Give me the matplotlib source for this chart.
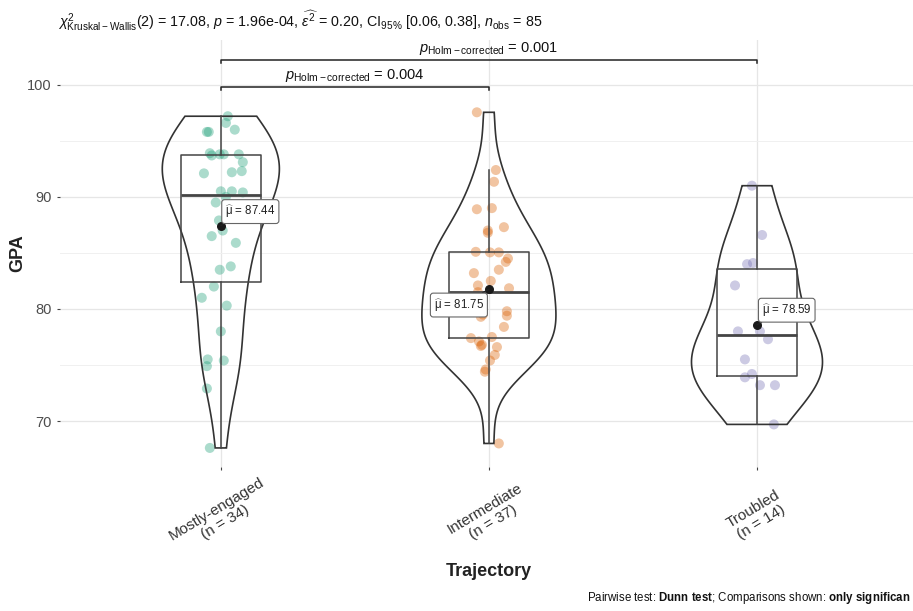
import numpy as np
import matplotlib
matplotlib.use("Agg")
import matplotlib.pyplot as plt
from matplotlib.transforms import blended_transform_factory

plt.rcParams["font.family"] = ["Liberation Sans", "DejaVu Sans"]
plt.rcParams["mathtext.fontset"] = "custom"
plt.rcParams["mathtext.rm"] = "Liberation Sans"
plt.rcParams["mathtext.it"] = "Liberation Sans:italic"
plt.rcParams["mathtext.bf"] = "Liberation Sans:bold"

# ---- data ----
groups = ["Mostly-engaged", "Intermediate", "Troubled"]
colors = ["#1B9E77", "#D95F02", "#7570B3"]

gpa_engaged = [97.2, 96.6, 95.8, 95.8, 96.0, 93.9, 93.7, 93.8, 93.8, 93.8, 93.1, 92.3,
               92.2, 92.1, 90.5, 90.4, 90.0, 89.5, 90.5, 87.9, 87.0, 86.5, 85.9, 83.5,
               83.8, 82.0, 81.0, 80.3, 78.0, 75.5, 74.9, 75.4, 72.9, 67.6]
jit_engaged = [.026, .019, -.052, -.045, .052, -.041, -.034, -.004, .011, .067, .082, .078,
               .041, -.063, .041, .082, .019, -.019, .000, -.007, .007, -.034, .056, -.004,
               .037, -.026, -.071, .022, .000, -.049, -.052, .011, -.052, -.041]

gpa_intermediate = [97.55, 92.4, 91.35, 88.9, 89.0, 87.3, 87.0, 86.8, 85.1, 85.05, 85.05,
                    84.5, 84.2, 83.2, 83.5, 82.5, 82.1, 81.5, 81.85, 79.5, 79.8, 79.4, 78.4,
                    77.4, 77.1, 76.8, 76.6, 75.9, 75.4, 74.4, 68.0, 81.0, 80.5, 79.3, 77.5,
                    76.7, 74.6]
jit_intermediate = [-.045, .026, .019, -.045, .011, .056, -.004, -.004, -.049, .004, .037,
                    .071, .063, -.056, .037, .007, -.041, -.041, .075, -.022, .067, .067, .056,
                    -.067, -.037, -.026, .030, .022, .004, -.015, .037, -.075, -.056, -.030, .011,
                    -.030, -.012]

gpa_troubled = [91.0, 86.6, 84.0, 84.1, 82.1, 78.0, 78.0, 77.3, 75.5, 73.9, 74.2, 73.2, 73.2, 69.7]
jit_troubled = [-.019, .019, -.037, -.015, -.082, -.071, .011, .041, -.045, -.045, -.019, .011,
                .067, .063]

mean_values = [87.44, 81.75, 78.59]

title_stats = (r"$\chi^2_{\mathrm{Kruskal-Wallis}}$(2) = 17.08, $\mathit{p}$ = 1.96e-04, "
               r"$\widehat{\varepsilon^2}$ = 0.20, CI$_{95\%}$ [0.06, 0.38], "
               r"$\mathit{n}_{\mathrm{obs}}$ = 85")
pairs = [(1, 2), (1, 3)]
pair_p = ["0.004", "0.001"]

data = [gpa_engaged, gpa_intermediate, gpa_troubled]
jitters = [jit_engaged, jit_intermediate, jit_troubled]


def kde(values):
    v = np.asarray(values)
    q1, q3 = np.percentile(v, [25, 75])
    bw = 0.9 * min(v.std(ddof=1), (q3 - q1) / 1.34) * len(v) ** (-0.2)
    grid = np.linspace(v.min(), v.max(), 512)
    dens = np.exp(-0.5 * ((grid[:, None] - v[None, :]) / bw) ** 2).sum(axis=1)
    dens /= len(v) * bw * np.sqrt(2 * np.pi)
    return grid, dens


fig = plt.figure(figsize=(9.13, 6.11), dpi=100)
ax = fig.add_axes([0.0657, 0.2357, 0.9396, 0.6988])

dens_list = [kde(d) for d in data]
dmax = max(d.max() for _, d in dens_list)

for i, (vals, jit, col) in enumerate(zip(data, jitters, colors)):
    pos = i + 1
    ax.scatter(pos + np.array(jit), vals, s=52, color=col, alpha=0.37,
               edgecolors="none", zorder=2)
    grid, dens = dens_list[i]
    half = 0.25 * dens / dmax
    xs = np.concatenate([pos - half, (pos + half)[::-1]])
    ys = np.concatenate([grid, grid[::-1]])
    ax.fill(xs, ys, facecolor="none", edgecolor="#333333", lw=1.2, zorder=3)

ax.boxplot(data, positions=[1, 2, 3], widths=0.3, whis=1.5, showfliers=False,
           showcaps=False, patch_artist=False, zorder=3,
           boxprops=dict(color="#444444", lw=1.1),
           whiskerprops=dict(color="#444444", lw=1.1),
           medianprops=dict(color="#444444", lw=2.0))

label_offsets = [(0.11, 1.25), (-0.112, -1.4), (0.111, 1.3)]
for i, m in enumerate(mean_values):
    ax.scatter([i + 1], [m], s=30, color="#1a1a1a", zorder=5)
    dx, dy = label_offsets[i]
    ax.annotate(r"$\widehat{\mathrm{\mu}}$ = %.2f" % m, xy=(i + 1, m),
                xytext=(i + 1 + dx, m + dy), ha="center", va="center", fontsize=8.3,
                color="#222222", zorder=6,
                bbox=dict(boxstyle="round,pad=0.3,rounding_size=0.25", fc="white",
                          ec="#666666", lw=0.8),
                arrowprops=dict(arrowstyle="-", color="#222222", lw=0.9,
                                shrinkA=0, shrinkB=0))

# significance brackets
bracket_y = [99.8, 102.2]
for (a, b), p, yb in zip(pairs, pair_p, bracket_y):
    ax.plot([a, a, b, b], [yb - 0.25, yb, yb, yb - 0.25], color="#222222", lw=1.1,
            zorder=4, clip_on=False)
    ax.text((a + b) / 2, yb + 0.3, r"$\mathit{p}_{\mathrm{Holm-corrected}}$ = " + p,
            ha="center", va="bottom", fontsize=10.5, color="#111111")

ax.set_xlim(0.4, 3.6)
ax.set_ylim(65.9, 104.0)
ax.set_yticks([70, 80, 90, 100])
ax.set_yticks([75, 85, 95], minor=True)
ax.set_xticks([1, 2, 3])
ax.set_xticklabels([])
ax.tick_params(axis="both", length=2.5, width=0.8, color="#444444", labelsize=10.5,
               labelcolor="#4d4d4d")
ax.tick_params(axis="y", which="minor", length=0)
ax.grid(True, which="major", color="#e6e6e6", lw=0.9)
ax.grid(True, which="minor", color="#f0f0f0", lw=0.7)
ax.set_axisbelow(True)
for sp in ax.spines.values():
    sp.set_visible(False)

trans = blended_transform_factory(ax.transData, ax.transAxes)
for i, g in enumerate(groups):
    ax.text(i + 1, -0.114, "%s\n(n = %d)" % (g, len(data[i])), transform=trans,
            rotation=31, ha="center", va="center", fontsize=11, color="#333333",
            multialignment="center")

fig.text(0.0197, 0.585, "GPA", rotation=90, ha="center", va="center", fontsize=13,
         fontweight="bold", color="#222222")
fig.text(0.535, 0.064, "Trajectory", ha="center", va="center", fontsize=13,
         fontweight="bold", color="#222222")
fig.text(0.0635, 0.967, title_stats, ha="left", va="center", fontsize=10.3, color="#111111")
fig.text(0.997, 0.021, r"Pairwise test: $\mathbf{Dunn\ test}$; Comparisons shown: "
         r"$\mathbf{only\ significan}$", ha="right", va="center", fontsize=8.3,
         color="#111111")

fig.savefig("out.png", dpi=100)
